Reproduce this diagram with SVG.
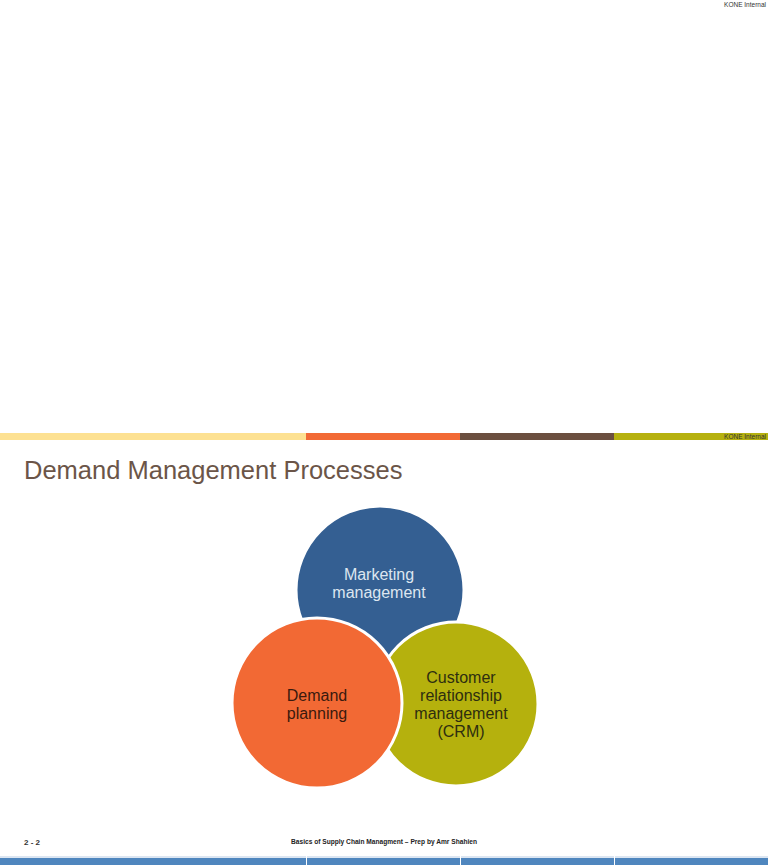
<svg xmlns="http://www.w3.org/2000/svg" width="768" height="866" viewBox="0 0 768 866">
<style>
.t{font-family:"Liberation Sans",Arial,sans-serif}
.c{stroke:#fff;stroke-width:3}
.lbl{font-family:"Liberation Sans",Arial,sans-serif;font-size:16px;text-anchor:middle}
</style>
<rect width="768" height="866" fill="#fff"/>
<text class="t" x="766" y="7" font-size="6.5" text-anchor="end" fill="#333">KONE Internal</text>
<g id="topbar">
<rect x="0" y="433" width="306" height="7" fill="#FDE192"/>
<rect x="306" y="433" width="154" height="7" fill="#F26A35"/>
<rect x="460" y="433" width="154" height="7" fill="#6B4F3F"/>
<rect x="614" y="433" width="154" height="7" fill="#B6B10F"/>
<text class="t" x="766" y="439" font-size="6.5" text-anchor="end" fill="#333">KONE Internal</text>
</g>
<text class="t" x="24" y="479" font-size="25.5" fill="#6B5548">Demand Management Processes</text>
<g id="marketing">
<circle class="c" cx="380" cy="590" r="84" fill="#345F92"/>
<text class="lbl" x="379" y="580" fill="#DDE6F0">Marketing</text>
<text class="lbl" x="379" y="598" fill="#DDE6F0">management</text>
</g>
<g id="crm">
<circle class="c" cx="456" cy="704" r="82" fill="#B5B10D"/>
<text class="lbl" x="461" y="683" fill="#2E2E10">Customer</text>
<text class="lbl" x="461" y="701" fill="#2E2E10">relationship</text>
<text class="lbl" x="461" y="719" fill="#2E2E10">management</text>
<text class="lbl" x="461" y="737" fill="#2E2E10">(CRM)</text>
</g>
<g id="demand">
<circle class="c" cx="317" cy="703" r="85" fill="#F26934"/>
<text class="lbl" x="317" y="701" fill="#3A1A0E">Demand</text>
<text class="lbl" x="317" y="719" fill="#3A1A0E">planning</text>
</g>
<g id="connectors"></g>
<text class="t" x="24" y="845" font-size="8" font-weight="bold" fill="#333">2 - 2</text>
<text class="t" x="384" y="844" font-size="7" font-weight="bold" text-anchor="middle" fill="#222" textLength="186" lengthAdjust="spacingAndGlyphs">Basics of Supply Chain Managment – Prep by Amr Shahien</text>
<g id="bottombar">
<rect x="0" y="856" width="768" height="2" fill="#DCE6F2"/>
<rect x="0" y="858" width="768" height="7" fill="#4F86BE"/>
<rect x="306" y="856" width="1" height="9" fill="#fff"/>
<rect x="460" y="856" width="1" height="9" fill="#fff"/>
<rect x="614" y="856" width="1" height="9" fill="#fff"/>
</g>
</svg>
